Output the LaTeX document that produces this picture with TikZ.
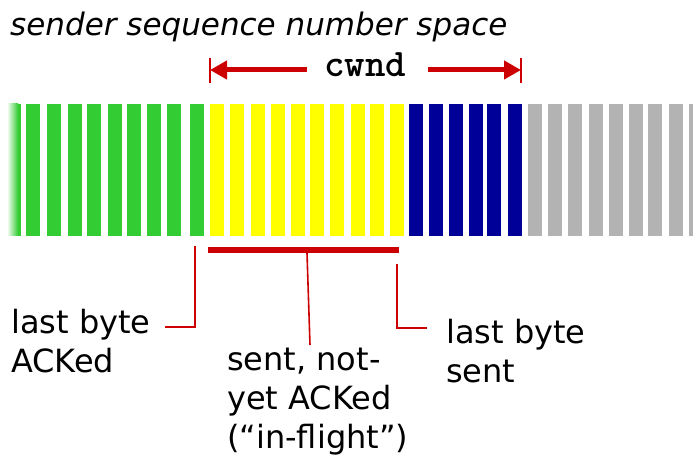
\documentclass[tikz,border=0pt]{standalone}
\usepackage{fontspec}
\setmainfont{DejaVu Sans}
\usetikzlibrary{arrows.meta}
\definecolor{barGreen}{HTML}{33CC33}
\definecolor{barYellow}{HTML}{FFFF00}
\definecolor{barBlue}{HTML}{000099}
\definecolor{barGray}{HTML}{B3B3B3}
\definecolor{lineRed}{HTML}{CC0000}
\begin{document}
\begin{tikzpicture}[x=1pt,y=-1pt,
  lbl/.style={font=\fontsize{32}{39}\selectfont, align=left, inner sep=0, anchor=base west},
  thinred/.style={draw=lineRed, line width=1.6pt},
  cwarrow/.style={draw=lineRed, line width=5pt, -{Triangle[length=17pt,width=18pt]}},
  tick/.style={draw=lineRed, line width=2pt}]
\useasboundingbox (0,0) rectangle (693,462);
% title
\node[lbl, font=\fontsize{31}{39}\selectfont\itshape] (title) at (10,36) {sender sequence number space};
% bars
\shade[left color=white, right color=barGreen] (7,104) rectangle (18,236);
\fill[barGreen] (17.5,104) rectangle (21,236);
\foreach \x in {26,47,68,87,108,127,147,167,190}
  \fill[barGreen] (\x,104) rectangle ++(14,132);
\foreach \x in {210,230,251,271,291,310,330,351,370,390}
  \fill[barYellow] (\x,104) rectangle ++(14,132);
\foreach \x in {409,429,449,469,487,508}
  \fill[barBlue] (\x,104) rectangle ++(14,132);
\foreach \x in {528,548,568,589,609,629,648,669,689}
  \fill[barGray] (\x,104) rectangle ++(14,132);
% cwnd
\node[inner sep=0, anchor=base, font=\ttfamily\bfseries\fontsize{39}{39}\selectfont] (cwnd) at (365,77) {cwnd};
\coordinate (cwLs) at (307,70);
\coordinate (cwLe) at (210,70);
\coordinate (cwRs) at (428,70);
\coordinate (cwRe) at (521,70);
\draw[cwarrow] (cwLs) -- (cwLe);
\draw[cwarrow] (cwRs) -- (cwRe);
\draw[tick] (210,58) -- (210,83);
\draw[tick] (521,58) -- (521,83);
% in-flight underline
\coordinate (ulL) at (208,250);
\coordinate (ulR) at (399,250);
\draw[draw=lineRed, line width=6pt] (ulL) -- (ulR);
% labels (base anchor = baseline of last line)
\node[lbl] (acked) at (11,372) {last byte\\ACKed};
\node[lbl] (inflight) at (227,448) {sent, not-\\yet ACKed\\(“in-flight”)};
\node[lbl] (sent) at (446,382) {last byte\\sent};
% connectors
\coordinate (ackTop) at (195,246);
\coordinate (ackCorner) at (195,327);
\coordinate (ackEnd) at (165,327);
\draw[thinred] (ackTop) -- (ackCorner) -- (ackEnd);
\coordinate (midTop) at (307,253);
\coordinate (midEnd) at (310,345);
\draw[thinred] (midTop) -- (midEnd);
\coordinate (sentTop) at (397,264);
\coordinate (sentCorner) at (397,328);
\coordinate (sentEnd) at (427,328);
\draw[thinred] (sentTop) -- (sentCorner) -- (sentEnd);
\end{tikzpicture}
\end{document}
